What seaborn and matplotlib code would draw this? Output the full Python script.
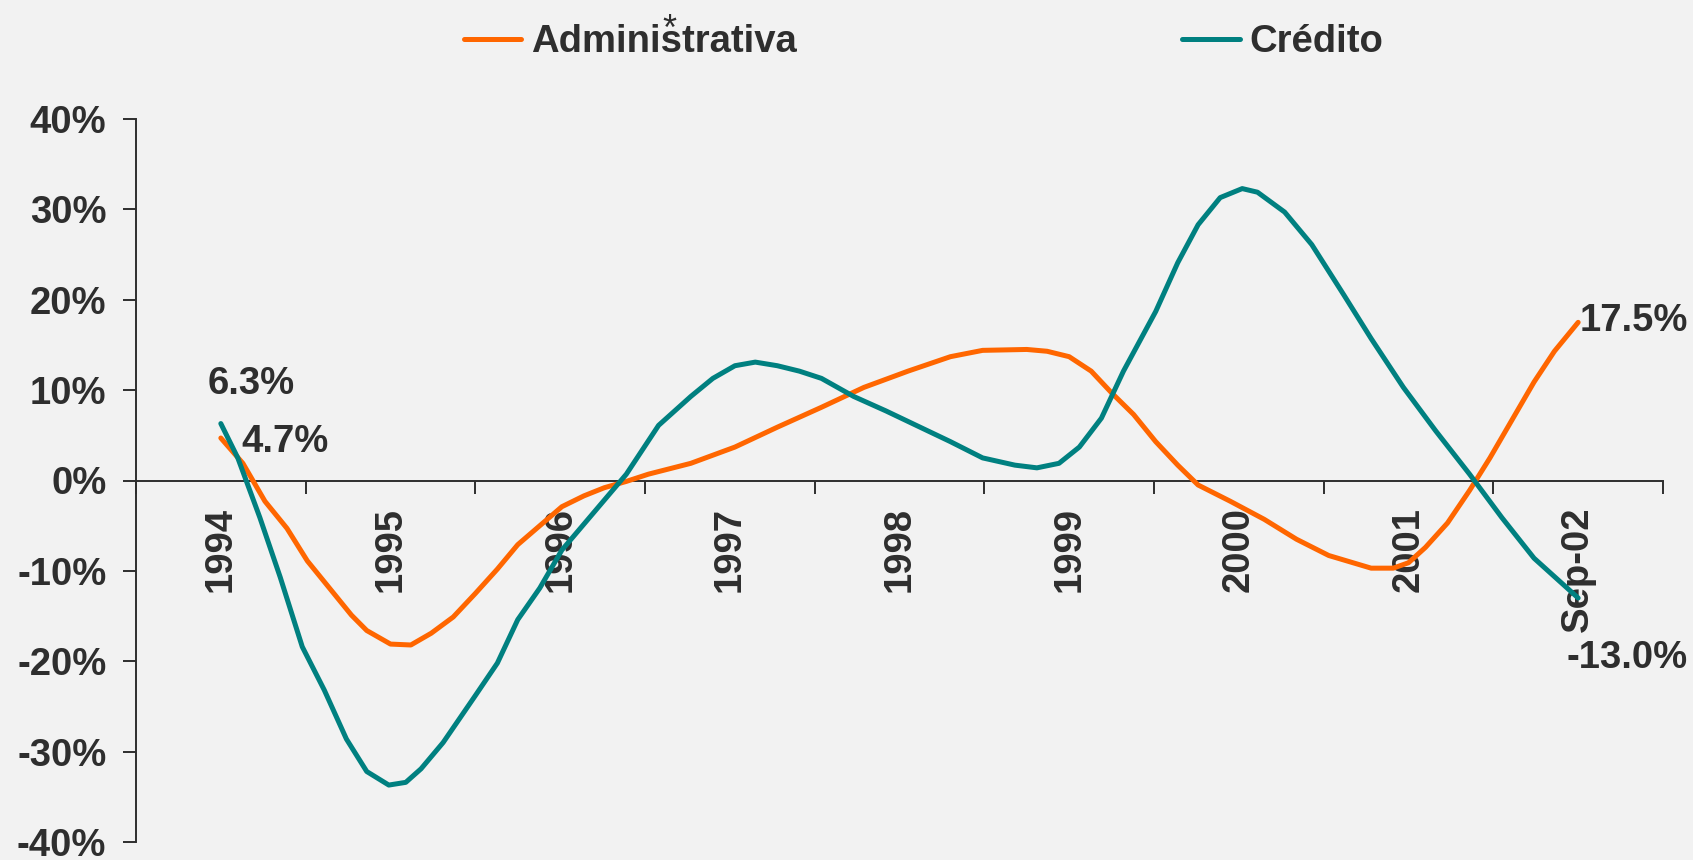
import matplotlib
matplotlib.use("Agg")
import numpy as np
import pandas as pd
import seaborn as sns
import matplotlib.pyplot as plt
from matplotlib.lines import Line2D

# category labels (one band per label on the x axis)
YEAR_LABELS = ["1994", "1995", "1996", "1997", "1998", "1999", "2000", "2001", "Sep-02"]

# positions along the category axis (band units) and growth rates (%)
adm_x = [0.50, 0.63, 0.76, 0.89, 1.01, 1.14, 1.27, 1.36, 1.50, 1.62, 1.74, 1.87,
         2.00, 2.13, 2.25, 2.38, 2.51, 2.64, 2.76, 2.89, 3.02, 3.27, 3.53, 3.78,
         4.04, 4.29, 4.55, 4.80, 4.99, 5.25, 5.37, 5.50, 5.63, 5.75, 5.88, 6.01,
         6.14, 6.26, 6.45, 6.65, 6.84, 7.03, 7.28, 7.41, 7.50, 7.60, 7.73, 7.86,
         7.98, 8.11, 8.24, 8.36, 8.50]
adm_y = [4.7, 1.9, -2.3, -5.3, -8.9, -11.9, -14.9, -16.6, -18.1, -18.2, -16.9, -15.1,
         -12.5, -9.8, -7.1, -5.0, -2.9, -1.7, -0.8, -0.1, 0.7, 1.9, 3.7, 5.9,
         8.1, 10.3, 12.1, 13.7, 14.4, 14.5, 14.3, 13.7, 12.1, 9.7, 7.3, 4.3,
         1.7, -0.5, -2.3, -4.3, -6.5, -8.3, -9.7, -9.7, -9.1, -7.4, -4.7, -1.1,
         2.5, 6.7, 10.9, 14.3, 17.5]

cred_x = [0.50, 0.60, 0.73, 0.85, 0.98, 1.11, 1.24, 1.36, 1.49, 1.59, 1.68, 1.81,
          2.00, 2.13, 2.25, 2.38, 2.51, 2.70, 2.89, 3.08, 3.27, 3.40, 3.53, 3.65,
          3.78, 3.91, 4.04, 4.23, 4.42, 4.61, 4.80, 4.99, 5.18, 5.31, 5.44, 5.56,
          5.69, 5.82, 6.01, 6.14, 6.26, 6.39, 6.52, 6.61, 6.77, 6.93, 7.12, 7.28,
          7.47, 7.66, 7.86, 8.05, 8.24, 8.50]
cred_y = [6.3, 2.5, -4.1, -10.7, -18.4, -23.2, -28.6, -32.2, -33.7, -33.4, -31.9, -29.0,
          -23.8, -20.2, -15.4, -11.9, -7.7, -3.5, 0.7, 6.1, 9.3, 11.3, 12.7, 13.1,
          12.7, 12.1, 11.3, 9.3, 7.7, 6.0, 4.3, 2.5, 1.7, 1.4, 1.9, 3.7,
          6.9, 12.1, 18.7, 24.1, 28.3, 31.3, 32.3, 31.9, 29.7, 26.1, 20.5, 15.7,
          10.3, 5.5, 0.7, -4.1, -8.6, -13.0]

ORANGE = "#ff6600"
TEAL = "#008080"
TEXT = "#2e2e2e"
BG = "#f2f2f2"
LW = 3.6

sns.set_style("white", {"axes.facecolor": BG, "figure.facecolor": BG})
plt.rcParams["font.family"] = ["Liberation Sans", "DejaVu Sans"]
plt.rcParams["font.weight"] = "bold"

W, H = 1693, 860
fig = plt.figure(figsize=(W / 100, H / 100), dpi=100)
ax = fig.add_axes([136 / W, (H - 842) / H, (1663 - 136) / W, (842 - 119) / H])

adm = pd.DataFrame({"x": adm_x, "y": adm_y})
cred = pd.DataFrame({"x": cred_x, "y": cred_y})
sns.lineplot(data=adm, x="x", y="y", color=ORANGE, lw=LW, sort=False,
             estimator=None, ax=ax, solid_joinstyle="round", zorder=3)
sns.lineplot(data=cred, x="x", y="y", color=TEAL, lw=LW, sort=False,
             estimator=None, ax=ax, solid_joinstyle="round", zorder=4)

ax.set_xlim(0, len(YEAR_LABELS))
ax.set_ylim(-40, 40)
ax.set_xlabel("")
ax.set_ylabel("")

# spines: y axis on the left, x axis sits on the zero line
for side in ["top", "right"]:
    ax.spines[side].set_visible(False)
ax.spines["bottom"].set_position(("data", 0))
for side in ["left", "bottom"]:
    ax.spines[side].set_color(TEXT)
    ax.spines[side].set_linewidth(1.4)

ax.set_yticks(np.arange(-40, 41, 10))
ax.set_yticklabels([f"{v}%" for v in range(-40, 41, 10)])
ax.tick_params(axis="y", left=True, direction="out", length=9.4, width=1.4, color=TEXT,
               labelsize=27.5, labelcolor=TEXT, pad=12)

# ticks at band edges, labels in band centres
ax.set_xticks(np.arange(0, len(YEAR_LABELS) + 1))
ax.set_xticklabels([])
ax.set_xticks(np.arange(len(YEAR_LABELS)) + 0.5, minor=True)
ax.set_xticklabels(YEAR_LABELS, minor=True, rotation=90)
ax.tick_params(axis="x", which="major", bottom=True, direction="out", length=9.4,
               width=1.4, color=TEXT)
ax.tick_params(axis="x", which="minor", bottom=True, length=0, labelsize=27.5,
               labelcolor=TEXT, pad=19)
for lab in ax.get_xticklabels(minor=True):
    lab.set_fontweight("bold")
for lab in ax.get_yticklabels():
    lab.set_fontweight("bold")

# value labels at the series ends
lab_kw = dict(fontsize=27.5, fontweight="bold", color=TEXT, clip_on=False, zorder=5)
ax.text(0.68, 10.7, f"{cred_y[0]:.1f}%", ha="center", va="center", **lab_kw)
ax.text(0.62, 4.3, f"{adm_y[0]:.1f}%", ha="left", va="center", **lab_kw)
ax.text(8.51, 17.6, f"{adm_y[-1]:.1f}%", ha="left", va="center", **lab_kw)
ax.text(8.43, -19.6, f"{cred_y[-1]:.1f}%", ha="left", va="center", **lab_kw)

handles = [Line2D([], [], color=ORANGE, lw=LW, solid_capstyle="round"),
           Line2D([], [], color=TEAL, lw=LW, solid_capstyle="round")]
leg = fig.legend(handles, ["Administrativa", "Crédito"], loc="center left",
                 bbox_to_anchor=(464 / W, 1 - 42 / H), ncol=2, frameon=False,
                 borderaxespad=0, borderpad=0, handlelength=1.5, handletextpad=0.25,
                 columnspacing=10.1, prop={"size": 27.5, "weight": "bold"})
for t in leg.get_texts():
    t.set_color(TEXT)
# footnote mark sitting over the "s" of Administrativa
fig.text(669 / W, 1 - 40 / H, "*", ha="center", va="baseline", fontsize=26,
         fontweight="normal", color=TEXT)

fig.savefig("out.png", dpi=100, facecolor=BG)
